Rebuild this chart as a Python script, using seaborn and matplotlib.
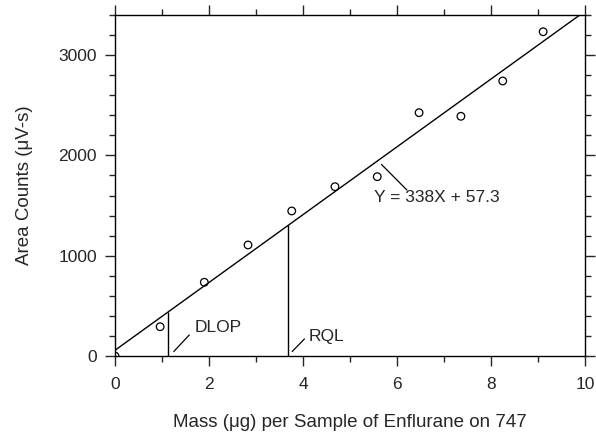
import matplotlib
matplotlib.use("Agg")
import matplotlib.pyplot as plt
import seaborn as sns
import numpy as np
import pandas as pd
from matplotlib.ticker import MultipleLocator

# ---- data ----
mass = [0.0, 0.96, 1.90, 2.83, 3.76, 4.68, 5.58, 6.47, 7.36, 8.25, 9.11]
area = [0, 292, 735, 1107, 1446, 1688, 1788, 2426, 2390, 2742, 3233]
slope = 338.0
intercept = 57.3
fit_x = [0, 10]
dlop = 1.12
rql = 3.68
x_ticks = [0, 2, 4, 6, 8, 10]
y_ticks = [0, 1000, 2000, 3000]
equation = "Y = 338X + 57.3"
xlabel = "Mass (\u03bcg) per Sample of Enflurane on 747"
ylabel = "Area Counts (\u03bcV-s)"

sns.set_style("ticks")
plt.rcParams["font.family"] = ["Liberation Sans", "DejaVu Sans"]
plt.rcParams["mathtext.default"] = "regular"

fig = plt.figure(figsize=(5.96, 4.38), dpi=100)
ax = fig.add_axes([0.193, 0.1872, 0.7885, 0.7786])

df = pd.DataFrame({"mass": mass, "area": area})
fit_df = pd.DataFrame({"x": fit_x, "y": [slope * v + intercept for v in fit_x]})

sns.lineplot(data=fit_df, x="x", y="y", ax=ax, color="black", linewidth=1.0)
sns.scatterplot(data=df, x="mass", y="area", ax=ax, marker="o", s=30,
                facecolor="none", edgecolor="black", linewidth=0.9, zorder=3)

ax.vlines([dlop, rql], 0, [slope * dlop + intercept, slope * rql + intercept],
          color="black", linewidth=1.0)

ax.set_xlim(0, 10)
ax.set_ylim(0, 3400)
ax.set_xticks(x_ticks)
ax.set_yticks(y_ticks)
ax.xaxis.set_minor_locator(MultipleLocator(1))
ax.yaxis.set_minor_locator(MultipleLocator(200))

fs = 12.5
lfs = 13.5
ax.tick_params(which="major", direction="out", length=7, width=1.0,
               labelsize=fs, top=True, right=True, pad=6)
ax.tick_params(which="minor", direction="out", length=4, width=1.0,
               top=True, right=True)
ax.tick_params(axis="x", which="major", pad=8)
for s in ax.spines.values():
    s.set_visible(True)
    s.set_linewidth(1.0)
    s.set_color("black")

ax.set_xlabel(xlabel, fontsize=lfs, labelpad=16)
ax.set_ylabel(ylabel, fontsize=lfs, labelpad=18)

# annotations
line_kw = dict(arrowstyle="-", color="black", linewidth=0.9, shrinkA=0, shrinkB=0)
ax.annotate("", xy=(1.25, 45), xytext=(1.58, 210), arrowprops=line_kw)
ax.text(1.70, 280, "DLOP", fontsize=fs, va="center", ha="left")
ax.annotate("", xy=(3.77, 45), xytext=(4.03, 170), arrowprops=line_kw)
ax.text(4.13, 190, "RQL", fontsize=fs, va="center", ha="left")
ax.annotate("", xy=(5.67, 1910), xytext=(6.21, 1655), arrowprops=line_kw)
ax.text(5.52, 1585, equation, fontsize=fs, va="center", ha="left")

fig.savefig("out.png", dpi=100)
